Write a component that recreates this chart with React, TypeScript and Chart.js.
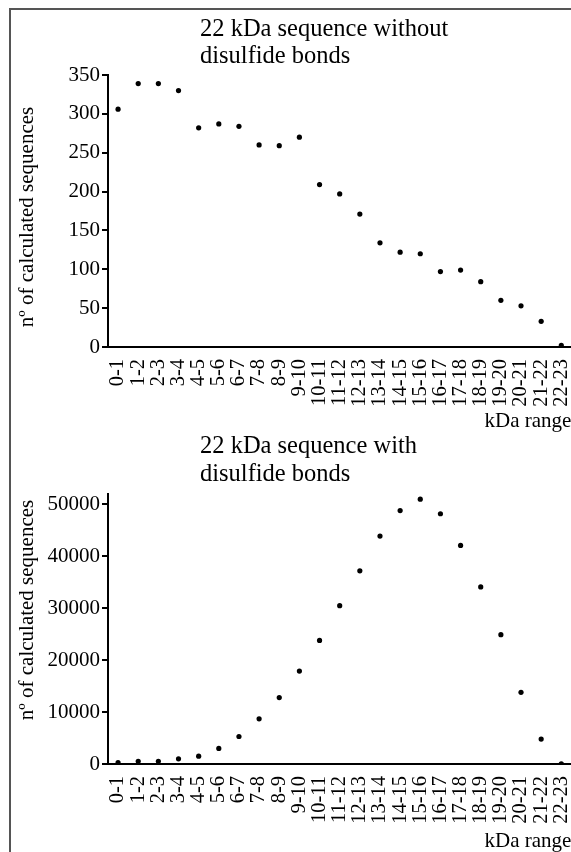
import React, { useEffect, useRef } from "react";
import { Chart, registerables } from "chart.js";

Chart.register(...registerables);

const categories = [
  "0-1", "1-2", "2-3", "3-4", "4-5", "5-6", "6-7", "7-8", "8-9", "9-10",
  "10-11", "11-12", "12-13", "13-14", "14-15", "15-16", "16-17", "17-18",
  "18-19", "19-20", "20-21", "21-22", "22-23",
];

const withoutBonds = [
  306, 339, 339, 330, 282, 287, 284, 260, 259, 270, 209, 197, 171, 134, 122,
  120, 97, 99, 84, 60, 53, 33, 2,
];

const withBonds = [
  250, 500, 500, 1000, 1500, 3000, 5300, 8700, 12800, 17900, 23800, 30500,
  37200, 43900, 48800, 51000, 48200, 42100, 34100, 24900, 13800, 4800, 50,
];

const yTicks1 = [0, 50, 100, 150, 200, 250, 300, 350];
const yTicks2 = [0, 10000, 20000, 30000, 40000, 50000];

const title1 = ["22 kDa sequence without", "disulfide bonds"];
const title2 = ["22 kDa sequence with", "disulfide bonds"];
const yTitle = "nº of calculated sequences";
const xTitle = "kDa range";

const FONT = "'Liberation Serif', 'Times New Roman', serif";

function makeConfig(
  data: number[],
  titleLines: string[],
  yTicks: number[],
  yMax: number,
  padTop: number,
  xHeight: number,
  titleY: number[],
  yTitleCenter: number
): any {
  const textPlugin = {
    id: "textPlugin",
    afterDraw(chart: any) {
      const ctx = chart.ctx;
      ctx.save();
      ctx.fillStyle = "#000";
      ctx.font = `24.5px ${FONT}`;
      ctx.textAlign = "left";
      ctx.textBaseline = "middle";
      titleLines.forEach((t, i) => ctx.fillText(t, 200, titleY[i]));
      ctx.font = `21px ${FONT}`;
      ctx.translate(27, yTitleCenter);
      ctx.rotate(-Math.PI / 2);
      ctx.textAlign = "center";
      ctx.fillText(yTitle, 0, 0);
      ctx.restore();
    },
  };
  return {
    type: "line",
    data: {
      labels: categories,
      datasets: [
        {
          data,
          showLine: false,
          pointRadius: 2.6,
          pointBackgroundColor: "#000",
          pointBorderColor: "#000",
          pointBorderWidth: 0,
        },
      ],
    },
    plugins: [textPlugin],
    options: {
      responsive: false,
      animation: false,
      layout: { padding: { top: padTop, left: 0, right: 0, bottom: 0 } },
      plugins: {
        legend: { display: false },
        tooltip: { enabled: false },
        title: { display: false },
      },
      scales: {
        x: {
          type: "category",
          offset: true,
          grid: { display: false },
          border: { display: true, color: "#000", width: 2 },
          ticks: {
            color: "#000",
            font: { family: FONT, size: 20.5 },
            minRotation: 90,
            maxRotation: 90,
            autoSkip: false,
            padding: 4,
          },
          title: {
            display: true,
            text: xTitle,
            align: "end",
            color: "#000",
            font: { family: FONT, size: 21, lineHeight: 1 },
            padding: { top: 0, bottom: 0 },
          },
          afterFit(scale: any) {
            scale.height = xHeight;
          },
        },
        y: {
          min: 0,
          max: yMax,
          grid: {
            display: true,
            drawOnChartArea: false,
            drawTicks: true,
            tickLength: 6,
            color: "#000",
            lineWidth: 2,
          },
          border: { display: true, color: "#000", width: 2 },
          ticks: {
            color: "#000",
            font: { family: FONT, size: 21 },
            padding: 2,
            autoSkip: false,
            callback: (v: any) => String(v),
          },
          afterBuildTicks(scale: any) {
            scale.ticks = yTicks.map((v) => ({ value: v }));
          },
          title: { display: false },
          afterFit(scale: any) {
            scale.width = 108;
          },
        },
      },
    },
  };
}

function ChartCanvas(props: { top: number; height: number; config: any }) {
  const ref = useRef<HTMLCanvasElement | null>(null);
  useEffect(() => {
    if (!ref.current) return;
    const chart = new Chart(ref.current, props.config);
    return () => chart.destroy();
  }, []);
  return (
    <canvas
      ref={ref}
      width={590}
      height={props.height}
      style={{
        position: "absolute",
        left: 0,
        top: props.top,
        width: 590,
        height: props.height,
      }}
    />
  );
}

export default function App() {
  const cfg1 = makeConfig(withoutBonds, title1, yTicks1, 350, 75, 85, [30, 57], 217);
  const cfg2 = makeConfig(withBonds, title2, yTicks2, 52000, 62, 88, [15, 43], 178);
  return (
    <div
      style={{
        position: "absolute",
        left: 0,
        top: 0,
        width: 571,
        height: 852,
        overflow: "hidden",
        background: "#fff",
      }}
    >
      <div
        style={{
          position: "absolute",
          left: 9,
          top: 8,
          width: 700,
          height: 1000,
          borderLeft: "2px solid #555",
          borderTop: "2px solid #555",
        }}
      />
      <ChartCanvas top={0} height={432} config={cfg1} />
      <ChartCanvas top={432} height={420} config={cfg2} />
    </div>
  );
}
